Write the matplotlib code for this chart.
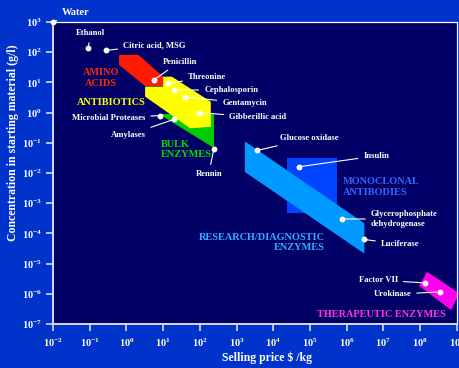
import matplotlib
matplotlib.use("Agg")
import matplotlib.pyplot as plt
import numpy as np

plt.rcParams['font.family'] = ['Liberation Serif', 'DejaVu Serif']
plt.rcParams['font.weight'] = 'bold'
plt.rcParams['mathtext.fontset'] = 'custom'
plt.rcParams['mathtext.rm'] = 'Liberation Serif:bold'
plt.rcParams['mathtext.bf'] = 'Liberation Serif:bold'
plt.rcParams['mathtext.it'] = 'Liberation Serif:bold:italic'

# ---------------- data ----------------
names = ["Water", "Ethanol", "Citric acid, MSG", "Penicillin", "Threonine",
         "Cephalosporin", "Gentamycin", "Gibberillic acid", "Microbial Proteases",
         "Amylases", "Rennin", "Glucose oxidase", "Insulin",
         "Glycerophosphate\ndehydrogenase", "Luciferase", "Factor VII", "Urokinase"]
price = [0.01, 0.092, 0.28, 5.6, 13.3, 20, 40, 97, 8.4,
         20, 240, 3700, 4.9e4, 7.4e5, 3.0e6, 1.35e8, 3.4e8]
conc = [1000, 135, 115, 12, 9.3, 5.6, 3.3, 1.0, 0.8,
        0.6, 0.061, 0.056, 0.016, 3.0e-4, 6.3e-5, 2.3e-6, 1.15e-6]

# region outlines, as log10(price), log10(conc)
red_lx = [-0.20, 0.33, 1.00, 1.00, 0.51, -0.20]
red_ly = [1.91, 1.91, 1.19, 0.88, 0.88, 1.58]
yel_lx = [0.51, 1.00, 1.00, 1.24, 2.30, 2.30, 1.74, 0.51]
yel_ly = [0.86, 0.86, 1.19, 1.19, 0.36, -0.47, -0.52, 0.53]
grn_lx = [0.90, 2.38, 2.38]
grn_ly = [-0.06, -0.06, -1.18]
res_lx = [3.23, 6.48, 6.48, 3.23]
res_ly = [-0.96, -3.67, -4.66, -1.96]
mab_lx = [4.37, 5.75, 5.75, 4.37]
mab_ly = [-1.51, -1.51, -3.33, -3.33]
thr_lx = [8.19, 9.07, 8.85, 7.98]
thr_ly = [-5.27, -5.98, -6.54, -5.74]

xticks_exp = list(range(-2, 10))
yticks_exp = list(range(-7, 4))

# ---------------- style ----------------
W, H = 459, 368
fig = plt.figure(figsize=(W / 100, H / 100), dpi=100)
fig.patch.set_facecolor('#0033cc')
ax = fig.add_axes([53 / W, 1 - 324 / H, (456.7 - 53) / W, (324 - 22) / H])
ax.set_facecolor('#000066')
ax.set_xscale('log')
ax.set_yscale('log')
ax.set_xlim(1e-2, 1e9)
ax.set_ylim(1e-7, 1e3)

def poly(lx, ly, color, clip=True):
    xs = 10 ** np.array(lx)
    ys = 10 ** np.array(ly)
    ax.fill(xs, ys, color=color, lw=0, zorder=2, clip_on=clip)

poly(red_lx, red_ly, '#ff1a00')
poly(grn_lx, grn_ly, '#00cc00')
poly(yel_lx, yel_ly, '#ffff00')
poly(res_lx, res_ly, '#0099ff')
poly(mab_lx, mab_ly, '#0044ff')
poly(res_lx, res_ly, '#0099ff')
poly(thr_lx, thr_ly, '#ff00ee', clip=False)
# monoclonal drawn behind research band
ax.patches[-3].set_zorder(1.5)

ax.plot(price, conc, 'o', color='white', ms=3.2, zorder=5, clip_on=False)

# label offsets in pixels (dx, dy up) and alignment
offsets = [(9, 9.5, 'left'), (1.7, 15, 'center'), (17, 5.3, 'left'),
           (8.6, 18.3, 'left'), (20.4, 6, 'left'), (30, 0, 'left'),
           (37, -6.3, 'left'), (30, -4.7, 'left'), (-15, -2.6, 'right'),
           (-28, -15.7, 'right'), (-5, -24.7, 'center'), (22.6, 12, 'left'),
           (65, 11, 'left'), (29, 0, 'left'), (16.7, -4.7, 'left'),
           (-27, 2.7, 'right'), (-28.3, -2.3, 'right')]
for n, px, cy, (dx, dy, ha) in zip(names, price, conc, offsets):
    fs = 6.2 if n != "Water" else 7.5
    ax.annotate(n, xy=(px, cy), xytext=(dx, dy), textcoords='offset pixels',
                ha=ha, va='center', color='white', fontsize=fs,
                fontweight='bold', zorder=6, annotation_clip=False,
                linespacing=1.25,
                arrowprops=dict(arrowstyle='-', color='white', lw=0.8,
                                shrinkA=2, shrinkB=2))

def ftext(x, y, s, color, ha='center', size=7.4):
    fig.text(x / W, 1 - y / H, s, color=color, ha=ha, va='center',
             fontsize=size, fontweight='bold', linespacing=1.15)

ftext(101, 78, "AMINO\nACIDS", '#ff2a00')
ftext(110.8, 102.3, "ANTIBIOTICS", '#ffff00')
ftext(161, 149.2, "BULK\nENZYMES", '#00dd00', ha='left')
ftext(343.3, 187, "MONOCLONAL\nANTIBODIES", '#3366ff', ha='left')
ftext(325, 242.8, "RESEARCH/DIAGNOSTIC\nENZYMES", '#33aaff', ha='right')
ftext(381.3, 314.3, "THERAPEUTIC ENZYMES", '#ff33dd')

# axes
for s in ax.spines.values():
    s.set_color('white')
    s.set_linewidth(0.9)
for s in ('left', 'bottom'):
    ax.spines[s].set_color('#d8d8e8')
    ax.spines[s].set_linewidth(1.4)

ax.set_xticks([10.0 ** e for e in xticks_exp])
ax.set_yticks([10.0 ** e for e in yticks_exp])
ax.set_xticklabels([r'$10^{%d}$' % e for e in xticks_exp])
ax.set_yticklabels([r'$10^{%d}$' % e for e in yticks_exp])
ax.minorticks_off()
ax.tick_params(axis='both', direction='out', length=5, width=1.2,
               colors='#d8d8e8', labelcolor='white', labelsize=7.5, pad=3)
ax.tick_params(axis='x', pad=4)

fig.text(266.7 / W, 1 - 358 / H, "Selling price $ /kg", color='white',
         ha='center', va='center', fontsize=8.5, fontweight='bold')
fig.text(13 / W, 1 - 143 / H, "Concentration in starting material (g/l)",
         color='white', ha='center', va='center', rotation=90,
         fontsize=8.5, fontweight='bold')

fig.savefig('out.png', dpi=100, facecolor=fig.get_facecolor())
